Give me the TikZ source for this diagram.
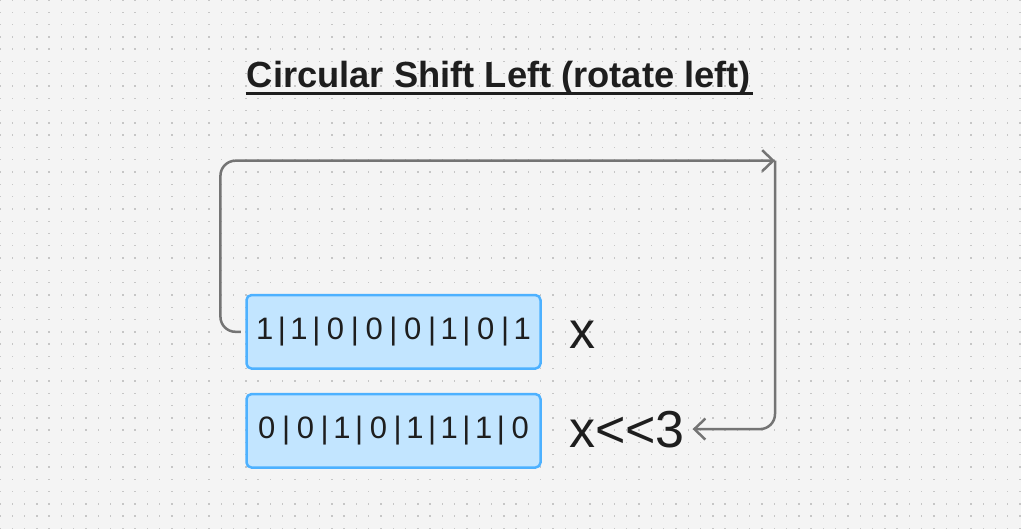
\documentclass[tikz,border=0pt]{standalone}
\usepackage{fontspec}
\setmainfont{Liberation Sans}
\usetikzlibrary{arrows.meta}
\definecolor{bg}{HTML}{F4F4F4}
\definecolor{dotc}{HTML}{C6C6C6}
\definecolor{boxfill}{HTML}{C2E5FF}
\definecolor{boxline}{HTML}{4DB1FF}
\definecolor{conncol}{HTML}{747474}
\definecolor{ink}{HTML}{1E1E1E}
\newcommand{\bitZ}{\makebox[38.6pt]{0}}
\newcommand{\bitO}{\makebox[34.4pt]{1}}
\newcommand{\bitSep}{\makebox[0pt]{|}}
\tikzset{
  bitbox/.style={draw=boxline, fill=boxfill, line width=2.5pt, rounded corners=5pt,
    minimum width=294pt, minimum height=73.5pt, inner sep=0pt, text=ink,
    font=\fontsize{31}{31}\selectfont},
  lbl/.style={inner sep=0pt, text=ink, font=\fontsize{52}{52}\selectfont, anchor=base west},
  titlestyle/.style={inner sep=0pt, text=ink, font=\fontsize{36.3}{36.3}\selectfont\bfseries, anchor=base},
  uline/.style={draw=ink, line width=3pt},
  conn/.style={draw=conncol, line width=2.5pt, rounded corners=15pt},
  tip/.style={-{Straight Barb[length=11pt,width=21pt]}},
}
\begin{document}
\begin{tikzpicture}[x=1pt,y=-1pt]
\useasboundingbox (0,0) rectangle (1021,529);
\fill[bg] (0,0) rectangle (1021,529);
\foreach \i in {0,...,83}{
  \foreach \j in {0,...,43}{
    \fill[dotc] (12.29*\i-0.7,12.29*\j-0.7) rectangle ++(1.4,1.4);
  }
}
% title
\node[titlestyle] (title) at (499,87.5) {Circular Shift Left (rotate left)};
\draw[uline, shorten <=-1pt, shorten >=-2pt] ([yshift=-6.5pt]title.base west) -- ([yshift=-6.5pt]title.base east);
% boxes
\node[bitbox] (box1) at (393.5,331.8) {\bitO\bitSep\bitO\bitSep\bitZ\bitSep\bitZ\bitSep\bitZ\bitSep\bitO\bitSep\bitZ\bitSep\bitO};
\node[bitbox] (box2) at (393.5,430.8) {\bitZ\bitSep\bitZ\bitSep\bitO\bitSep\bitZ\bitSep\bitO\bitSep\bitO\bitSep\bitO\bitSep\bitZ};
% labels
\node[lbl] (lx) at (569,349) {x};
\node[lbl] (lx3) at (569,447) {x{<}{<}3};
% connectors
\coordinate (turn) at (775,160.7);
\draw[conn, tip, shorten <=4.5pt] (box1.west) -- ++(-24.8,0) |- (turn);
\draw[conn, tip] (turn) |- ([xshift=7.5pt]lx3.east);
\end{tikzpicture}
\end{document}
